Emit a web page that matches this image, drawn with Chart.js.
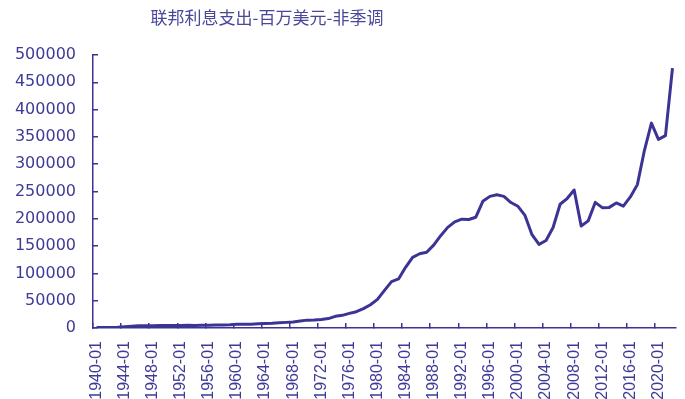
<!DOCTYPE html>
<html>
<head>
<meta charset="utf-8">
<script src="https://cdn.jsdelivr.net/npm/chart.js@4"></script>
<style>
  html, body { margin: 0; padding: 0; background: #ffffff; }
  #wrap { width: 685px; height: 399px; }
</style>
</head>
<body>
<div id="wrap"><canvas id="chartBunga" width="685" height="399"></canvas></div>
<script>
// Federal interest outlays, million USD, not seasonally adjusted (annual)
const years = [];
for (let y = 1940; y <= 2022; y++) years.push(y + "-01");

const bunga = [
     900,    900,   1100,   1500,   2200,   3100,   4100,   4200,   4300,   4500,  // 1940-1949
    4800,   4700,   4700,   5200,   4800,   4900,   5100,   5400,   5600,   5800,  // 1950-1959
    6900,   6700,   6900,   7700,   8200,   8600,   9400,  10300,  11100,  12700,  // 1960-1969
   14400,  14800,  15500,  17300,  21400,  23200,  26700,  29900,  35500,  42600,  // 1970-1979
   52500,  68800,  85000,  89800, 111100, 129500, 136000, 138600, 151800, 169000,  // 1980-1989
  184300, 194400, 199300, 198700, 202900, 232100, 241100, 244000, 241100, 229800,  // 1990-1999
  222900, 206200, 170900, 153100, 160200, 184000, 226600, 237100, 252800, 186900,  // 2000-2009
  196200, 230000, 220400, 220900, 229000, 223200, 240000, 262600, 325000, 375200,  // 2010-2019
  345500, 352300, 475900                                                            // 2020-2022
];

const yTicks = [0, 50000, 100000, 150000, 200000, 250000, 300000, 350000, 400000, 450000, 500000];
const judul = "联邦利息支出-百万美元-非季调";

const WARNA = {
    garis: "#3c3494",
    teks:  "#3f3a96",
    judul: "#4a4699",
};

// title sits left of the plot centre, so it is painted by hand
const judulPlugin = {
    id: "judulManual",
    afterDraw(chart) {
        const ctx = chart.ctx;
        ctx.save();
        ctx.font = "17px 'Noto Sans CJK SC', sans-serif";
        ctx.fillStyle = WARNA.judul;
        ctx.textAlign = "center";
        ctx.textBaseline = "middle";
        ctx.fillText(judul, 267, 18);
        ctx.restore();
    },
};

new Chart(document.getElementById("chartBunga"), {
    type: "line",
    data: {
        labels: years,
        datasets: [{
            data: bunga,
            borderColor: WARNA.garis,
            borderWidth: 3,
            pointRadius: 0,
            tension: 0,
            borderJoinStyle: "round",
            fill: false,
        }],
    },
    plugins: [judulPlugin],
    options: {
        responsive: false,
        animation: false,
        layout: { padding: { top: 55, right: 9, left: 0, bottom: 0 } },
        plugins: {
            legend: { display: false },
            tooltip: { enabled: false },
            title: { display: false },
        },
        scales: {
            x: {
                type: "category",
                offset: true,
                grid: {
                    offset: true,
                    drawOnChartArea: false,
                    tickLength: -5,
                    lineWidth: 1.5,
                    tickColor: (ctx) => (ctx.index % 4 === 0 ? WARNA.garis : "rgba(0,0,0,0)"),
                },
                border: { color: WARNA.garis, width: 1.5 },
                ticks: {
                    autoSkip: false,
                    minRotation: 90,
                    maxRotation: 90,
                    padding: 18,
                    color: WARNA.teks,
                    font: { family: "'Liberation Sans', Arial, sans-serif", size: 16 },
                    callback: function (val, i) {
                        return i % 4 === 0 ? this.getLabelForValue(val) : "";
                    },
                },
                afterFit: (scale) => {
                    scale.height = 71;
                    scale.paddingLeft = 0;
                    scale.paddingRight = 0;
                },
            },
            y: {
                min: 0,
                max: 500000,
                afterBuildTicks: (scale) => { scale.ticks = yTicks.map((v) => ({ value: v })); },
                grid: {
                    drawOnChartArea: false,
                    tickLength: -5,
                    lineWidth: 1.5,
                    tickColor: WARNA.garis,
                },
                border: { color: WARNA.garis, width: 1.5 },
                ticks: {
                    padding: 22,
                    color: WARNA.teks,
                    font: { family: "'DejaVu Sans', sans-serif", size: 16 },
                    callback: (v) => String(v),
                },
                afterFit: (scale) => { scale.width = 93; },
            },
        },
    },
});
</script>
</body>
</html>
